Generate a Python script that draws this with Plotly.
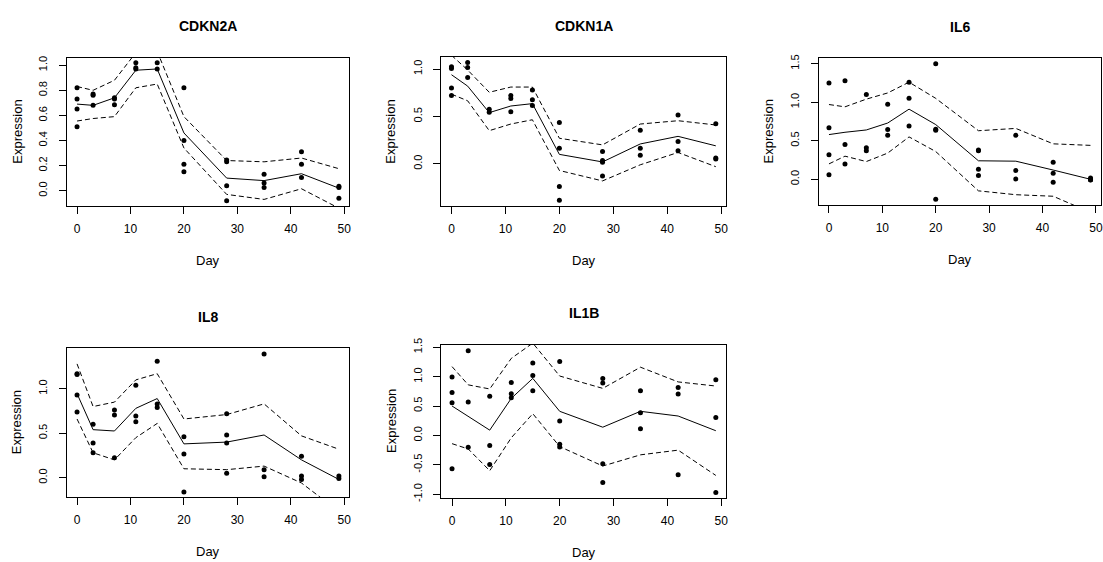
import plotly.graph_objects as go

W, H = 1103, 562
days = [0, 3, 7, 11, 15, 20, 28, 35, 42, 49]
genes = ["CDKN2A", "CDKN1A", "IL6", "IL8", "IL1B"]

# observed points per day (one list per day)
cdkn2a_pts = [[0.82, 0.73, 0.65, 0.51], [0.77, 0.76, 0.68], [0.74, 0.73, 0.685],
              [1.02, 0.98, 0.97], [1.02, 0.97], [0.82, 0.40, 0.21, 0.15],
              [0.245, 0.23, 0.04, -0.08], [0.13, 0.06, 0.025], [0.31, 0.21, 0.105],
              [0.035, 0.025, -0.06]]
cdkn2a_fit = [0.69, 0.68, 0.74, 0.96, 0.97, 0.46, 0.10, 0.08, 0.135, 0.02]
cdkn2a_up = [0.83, 0.80, 0.88, 1.10, 1.11, 0.59, 0.24, 0.23, 0.26, 0.175]
cdkn2a_lo = [0.555, 0.575, 0.59, 0.82, 0.85, 0.34, -0.03, -0.07, 0.015, -0.14]

cdkn1a_pts = [[1.024, 1.007, 0.80, 0.72], [1.07, 1.017, 0.91], [0.575, 0.545],
              [0.72, 0.69, 0.55], [0.78, 0.675, 0.615], [0.435, 0.165, -0.24, -0.385],
              [0.13, 0.035, 0.017, -0.128], [0.355, 0.165, 0.09], [0.514, 0.235, 0.138],
              [0.424, 0.062, 0.052]]
cdkn1a_fit = [0.94, 0.82, 0.54, 0.61, 0.635, 0.10, 0.02, 0.21, 0.29, 0.19]
cdkn1a_up = [1.145, 0.99, 0.755, 0.81, 0.81, 0.27, 0.20, 0.42, 0.455, 0.41]
cdkn1a_lo = [0.735, 0.665, 0.35, 0.42, 0.465, -0.07, -0.18, -0.01, 0.12, -0.03]

il6_pts = [[1.25, 0.67, 0.32, 0.06], [1.28, 0.45, 0.20], [1.10, 0.41, 0.37],
           [0.975, 0.645, 0.57], [1.26, 1.05, 0.69], [1.50, 0.65, 0.635, -0.26],
           [0.38, 0.37, 0.13, 0.05], [0.57, 0.115, 0.005], [0.22, 0.08, -0.04],
           [0.017, -0.005, -0.01]]
il6_fit = [0.58, 0.61, 0.64, 0.73, 0.91, 0.71, 0.24, 0.235, 0.12, 0.0]
il6_up = [0.97, 0.94, 1.04, 1.12, 1.26, 1.05, 0.63, 0.66, 0.46, 0.44]
il6_lo = [0.20, 0.30, 0.23, 0.34, 0.55, 0.36, -0.15, -0.20, -0.22, -0.43]

il8_pts = [[1.17, 1.16, 0.93, 0.74], [0.60, 0.39, 0.28], [0.76, 0.705, 0.225],
           [1.04, 0.695, 0.63], [1.31, 0.83, 0.79], [0.46, 0.265, -0.16],
           [0.72, 0.48, 0.39, 0.05], [1.39, 0.09, 0.01], [0.24, 0.02, -0.02],
           [0.02, -0.01]]
il8_fit = [0.945, 0.54, 0.525, 0.78, 0.89, 0.38, 0.40, 0.48, 0.20, -0.02]
il8_up = [1.28, 0.80, 0.85, 1.10, 1.17, 0.66, 0.71, 0.83, 0.47, 0.32]
il8_lo = [0.66, 0.28, 0.20, 0.45, 0.61, 0.10, 0.09, 0.13, -0.06, -0.38]

il1b_pts = [[0.995, 0.73, 0.555, -0.565], [1.44, 0.57, -0.20], [0.665, -0.17, -0.495],
            [0.90, 0.71, 0.64], [1.23, 1.02, 0.76], [1.255, 0.245, -0.15, -0.195],
            [0.97, 0.89, -0.48, -0.80], [0.76, 0.385, 0.115], [0.815, 0.705, -0.67],
            [0.945, 0.305, -0.97]]
il1b_fit = [0.50, 0.32, 0.09, 0.63, 0.97, 0.41, 0.14, 0.41, 0.33, 0.08]
il1b_up = [1.17, 0.86, 0.79, 1.31, 1.57, 1.01, 0.80, 1.16, 0.91, 0.84]
il1b_lo = [-0.14, -0.23, -0.60, -0.04, 0.37, -0.19, -0.52, -0.33, -0.25, -0.68]

y_ticks = {
    "CDKN2A": [0.0, 0.2, 0.4, 0.6, 0.8, 1.0],
    "CDKN1A": [0.0, 0.5, 1.0],
    "IL6": [0.0, 0.5, 1.0, 1.5],
    "IL8": [0.0, 0.5, 1.0],
    "IL1B": [-1.0, -0.5, 0.0, 0.5, 1.0, 1.5],
}
x_ticks = [0, 10, 20, 30, 40, 50]

data = {
    "CDKN2A": (cdkn2a_pts, cdkn2a_fit, cdkn2a_up, cdkn2a_lo),
    "CDKN1A": (cdkn1a_pts, cdkn1a_fit, cdkn1a_up, cdkn1a_lo),
    "IL6": (il6_pts, il6_fit, il6_up, il6_lo),
    "IL8": (il8_pts, il8_fit, il8_up, il8_lo),
    "IL1B": (il1b_pts, il1b_fit, il1b_up, il1b_lo),
}

# layout: panel boxes in pixels (left, right, top, bottom) and y ranges
boxes = {
    "CDKN2A": (66.7, 350, 51.7, 203.3),
    "CDKN1A": (441.7, 727.7, 51.0, 203.3),
    "IL6": (820, 1103, 52.3, 202.3),
    "IL8": (66.7, 350, 347.7, 500),
    "IL1B": (442.3, 727.7, 344.3, 501),
}
y_ranges = {
    "CDKN2A": [-0.125, 1.06],
    "CDKN1A": [-0.448, 1.127],
    "IL6": [-0.338, 1.57],
    "IL8": [-0.22, 1.46],
    "IL1B": [-1.067, 1.545],
}
x_range = [-1.96, 50.96]

fig = go.Figure()
layout = dict(width=W, height=H, autosize=False, margin=dict(l=0, r=0, t=0, b=0),
              paper_bgcolor="white", plot_bgcolor="white", showlegend=False,
              font=dict(family="Liberation Sans, Arial, sans-serif", color="black"))
annotations = []

for i, g in enumerate(genes):
    n = i + 1
    xa = "x" if n == 1 else f"x{n}"
    ya = "y" if n == 1 else f"y{n}"
    pts, fit, up, lo = data[g]
    px_, py_ = [], []
    for d, vals in zip(days, pts):
        for v in vals:
            px_.append(d)
            py_.append(v)
    fig.add_trace(go.Scatter(x=px_, y=py_, mode="markers", xaxis=xa, yaxis=ya,
                             marker=dict(color="black", size=5), cliponaxis=True))
    fig.add_trace(go.Scatter(x=days, y=fit, mode="lines", xaxis=xa, yaxis=ya,
                             line=dict(color="black", width=1)))
    for band in (up, lo):
        fig.add_trace(go.Scatter(x=days, y=band, mode="lines", xaxis=xa, yaxis=ya,
                                 line=dict(color="black", width=1, dash="5px,3px")))
    l, r, t, b = boxes[g]
    xd = [l / W, min(r / W, 1.0)]
    yd = [1 - b / H, 1 - t / H]
    axkey = "xaxis" if n == 1 else f"xaxis{n}"
    aykey = "yaxis" if n == 1 else f"yaxis{n}"
    layout[axkey] = dict(domain=xd, range=x_range, anchor=ya, tickvals=x_ticks,
                         ticktext=[str(v) for v in x_ticks], ticks="outside", ticklen=7,
                         tickcolor="black", showline=True, linecolor="black", linewidth=1,
                         mirror=True, showgrid=False, zeroline=False,
                         tickfont=dict(size=12, color="black"), ticklabelstandoff=4)
    layout[aykey] = dict(domain=yd, range=y_ranges[g], anchor=xa, tickvals=y_ticks[g],
                         ticktext=[f"{v:.1f}" for v in y_ticks[g]], ticks="outside",
                         ticklen=7, tickcolor="black", showline=True, linecolor="black",
                         linewidth=1, mirror=True, showgrid=False, zeroline=False,
                         tickangle=-90, tickfont=dict(size=11, color="black"),
                         ticklabelstandoff=7)
    cx = (l + r) / 2
    if g == "IL6":
        cx = (820 + 1103.5) / 2
    annotations.append(dict(text=f"<b>{g}</b>", x=cx / W, y=1 - (t - 32) / H,
                            xref="paper", yref="paper", showarrow=False,
                            font=dict(size=14, color="black"), xanchor="center",
                            yanchor="middle"))
    annotations.append(dict(text="Day", x=cx / W, y=1 - (b + 55) / H, xref="paper",
                            yref="paper", showarrow=False, font=dict(size=13, color="black"),
                            xanchor="center", yanchor="middle"))
    annotations.append(dict(text="Expression", x=(l - 50) / W, y=1 - (t + b) / 2 / H,
                            xref="paper", yref="paper", showarrow=False, textangle=-90,
                            font=dict(size=13, color="black"), xanchor="center",
                            yanchor="middle"))

layout["annotations"] = annotations
fig.update_layout(**layout)
fig.write_html("out.html")
